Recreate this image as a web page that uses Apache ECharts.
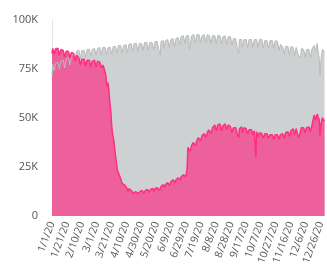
<!DOCTYPE html>
<html>
<head>
<meta charset="utf-8">
<title>Daily volume 2020</title>
<script src="https://cdn.jsdelivr.net/npm/echarts@6/dist/echarts.min.js"></script>
<style>
  html, body { margin: 0; padding: 0; background: #fff; }
  #main { width: 327px; height: 273px; }
</style>
</head>
<body>
<div id="main"></div>
<script>
// values in thousands, one per day starting Wed 1/1/20 (rows = Wed..Tue)
var grayVals = [
  72, 77.5, 78, 74, 73.5, 78, 78.5,
  78.5, 78.5, 79, 75, 74.5, 79, 79,
  79, 79.5, 79.5, 75.5, 75, 80, 80,
  80.5, 81, 81, 77, 76.5, 81.5, 82,
  83, 83.5, 84, 80, 79.5, 84, 84,
  84, 84.5, 84.5, 80.5, 80, 84.5, 84.5,
  84.5, 84.5, 85, 81, 80.5, 85, 85,
  85, 85, 85.5, 81.5, 81, 85, 85.5,
  85.5, 85.5, 85.5, 82, 81.5, 85.5, 85.5,
  85.5, 86, 86, 82, 81.5, 86, 86,
  86, 86, 86.5, 82.5, 82, 86, 86,
  86, 86, 86, 82.5, 82, 86.5, 86.5,
  86.5, 86.5, 87, 83, 82.5, 87, 87,
  87, 87, 87, 83, 82.5, 87, 87.5,
  87.5, 87.5, 87, 83.5, 83, 87.5, 87.5,
  87.5, 88, 88, 84, 83.5, 88, 88,
  88, 88, 88, 84, 83.5, 88, 88,
  88, 88, 88.5, 84.5, 84, 88.5, 88,
  88.5, 88.5, 88.5, 84.5, 84, 88.5, 88.5,
  88.5, 88.5, 89, 85, 84.5, 89, 89,
  89, 89, 89, 85, 84.5, 82, 89,
  89, 89.5, 89.5, 85.5, 85, 89.5, 89.5,
  89.5, 90, 90, 86, 85.5, 90, 90,
  90, 90.5, 90.5, 86.5, 86, 90.5, 91,
  91, 91, 91.5, 87.5, 87, 91.5, 91.5,
  91.5, 92, 92, 88, 87.5, 92, 92,
  92, 92, 85, 87, 87, 92, 92.5,
  92.5, 92.5, 92.5, 88.5, 88, 92.5, 92.5,
  92.5, 92.5, 92.5, 88.5, 88, 92, 92.5,
  92.5, 92.5, 92.5, 88.5, 88, 92.5, 92,
  92, 92, 92.5, 88, 87.5, 92, 92,
  92, 92, 92, 88, 87.5, 92, 92,
  92, 92, 92, 88, 87.5, 91.5, 92,
  92, 92, 91.5, 87.5, 87, 91.5, 91.5,
  91.5, 91.5, 91, 87, 86.5, 90.5, 90.5,
  90.5, 90.5, 90, 86, 85.5, 83, 90,
  90, 90, 90, 86, 85.5, 90, 90,
  90, 90, 90, 86, 85.5, 90, 90,
  90, 90, 90, 86, 85.5, 90, 90,
  90, 90, 90, 86, 85.5, 90, 90,
  90, 90, 89.5, 85.5, 85, 89.5, 89.5,
  89.5, 89.5, 89.5, 85.5, 85, 89.5, 89.5,
  89.5, 89.5, 89.5, 85.5, 85, 89.5, 89,
  89, 89, 88.5, 84.5, 84, 87.5, 87,
  86.5, 86.5, 86.5, 82.5, 82, 86.5, 86.5,
  86.5, 86.5, 86.5, 82.5, 82, 86.5, 86,
  86, 86, 86, 82, 81.5, 86, 85.5,
  85.5, 82, 82.5, 81.5, 81, 85.5, 85.5,
  85, 85, 85, 81, 80.5, 85, 85,
  85, 85, 85, 81, 80.5, 85, 85.5,
  86, 87, 88, 84, 83.5, 88, 88,
  87.5, 80, 72, 79, 80, 85, 85,
  85, 84
];

var pinkVals = [
  83, 85.5, 85.5, 82.5, 82, 85.5, 86,
  85.5, 85.5, 85, 82, 81.5, 85, 85,
  84.5, 84.5, 84.5, 81, 80.5, 84, 84.5,
  84, 84, 84, 80.5, 80, 83.5, 84,
  83, 83, 82.5, 79, 78.5, 82, 81.5,
  81, 80.5, 80.5, 77, 76.5, 80, 80,
  80, 80, 79.5, 76.5, 76, 79.5, 79.5,
  79.5, 79.5, 79.5, 76, 75.5, 79, 79.5,
  79.5, 79.5, 79, 76, 75.5, 79, 79,
  79, 78.5, 78.5, 75.5, 75, 77, 76,
  75, 74, 72, 68, 66, 68, 65,
  60, 56, 52, 46, 42, 42, 38,
  34, 31, 28, 25, 23, 23, 21,
  20, 19, 18, 16.5, 15.5, 16.5, 16,
  15.5, 15, 14.5, 13.5, 12.5, 14, 13.5,
  13.5, 13, 13, 12, 11.5, 12.5, 12.5,
  12.5, 12.5, 12.5, 11.5, 11, 12.5, 12.5,
  12.5, 12.5, 13, 12, 11.5, 12.5, 13,
  13, 13, 13.5, 12.5, 12, 13, 13.5,
  13.5, 14, 14, 13, 12.5, 14, 14,
  14.5, 14.5, 15, 13.5, 13, 14, 15,
  15.5, 16, 16, 15, 14.5, 16, 16.5,
  17, 17, 17.5, 16, 15.5, 17.5, 18,
  18, 18.5, 18.5, 17.5, 17, 18.5, 19,
  19.5, 19.5, 20, 19, 18.5, 20, 20.5,
  21, 21, 21.5, 20.5, 20, 22, 24,
  35, 36, 34, 33, 33, 36, 37,
  37.5, 38, 38, 36, 35.5, 38.5, 39,
  40, 40.5, 41, 38.5, 38, 41, 41.5,
  42, 42, 42.5, 40, 39.5, 42.5, 43,
  44, 44.5, 45, 42, 41.5, 45, 45.5,
  46, 46.5, 46.5, 43.5, 43, 46.5, 47,
  47, 47, 46.5, 43.5, 43, 46, 46.5,
  46.5, 47, 47.5, 44, 43.5, 46.5, 46,
  45.5, 45.5, 45, 42.5, 42, 45, 45.5,
  45, 45, 44.5, 42, 41.5, 40, 44.5,
  45, 45, 45.5, 42.5, 42, 45, 45,
  44.5, 44.5, 45, 42, 41.5, 44, 44,
  44, 44, 44, 41.5, 41, 43.5, 43.5,
  30, 43, 43, 40.5, 40, 42.5, 42.5,
  42.5, 42, 42, 39.5, 39, 42, 42,
  42, 42, 42, 39.5, 39, 41.5, 41.5,
  41.5, 41.5, 41.5, 39, 38.5, 41.5, 41.5,
  41.5, 41.5, 41.5, 39, 38.5, 41.5, 42,
  42, 42, 42, 39.5, 39, 42.5, 42.5,
  43, 43, 43.5, 40.5, 40, 43.5, 44,
  44, 44.5, 44.5, 41.5, 41, 44.5, 45,
  45, 40, 41, 42, 41.5, 45, 45,
  45, 45, 45, 42.5, 42, 45, 45.5,
  45.5, 45.5, 46, 43, 42.5, 46, 46.5,
  47, 51.5, 52, 49, 48.5, 52, 52,
  51, 49, 41, 46, 47, 50, 50,
  49.5, 48.5
];

var yTickLabels = ['0', '25K', '50K', '75K', '100K'];

// daily category labels, m/d/20
var dates = [];
for (var i = 0; i < pinkVals.length; i++) {
  var d = new Date(2020, 0, 1 + i);
  dates.push((d.getMonth() + 1) + '/' + d.getDate() + '/20');
}

var chart = echarts.init(document.getElementById('main'));
chart.setOption({
  animation: false,
  backgroundColor: '#fff',
  grid: { left: 52, right: 1, top: 20, bottom: 57 },
  xAxis: {
    type: 'category',
    data: dates,
    boundaryGap: false,
    axisLine: { show: false },
    axisTick: { show: false },
    axisLabel: {
      interval: 19,
      rotate: 70,
      margin: 6,
      fontSize: 10.5,
      color: '#555',
      fontFamily: 'Open Sans, sans-serif'
    }
  },
  yAxis: {
    type: 'value',
    min: 0,
    max: 100,
    interval: 25,
    axisLine: { show: true, lineStyle: { color: '#e4e4e4' } },
    axisTick: { show: false },
    splitLine: { show: false },
    axisLabel: {
      margin: 14,
      fontSize: 11,
      color: '#555',
      fontFamily: 'Open Sans, sans-serif',
      formatter: function (v) { return yTickLabels[Math.round(v / 25)]; }
    }
  },
  series: [
    {
      name: 'gray',
      type: 'line',
      data: grayVals,
      symbol: 'none',
      lineStyle: { color: '#bababa', width: 1 },
      areaStyle: { color: '#ced1d1', opacity: 1 }
    },
    {
      name: 'pink',
      type: 'line',
      data: pinkVals,
      symbol: 'none',
      lineStyle: { color: '#ff2f80', width: 1.5 },
      areaStyle: { color: '#ee609c', opacity: 1 }
    }
  ]
});
</script>
</body>
</html>
